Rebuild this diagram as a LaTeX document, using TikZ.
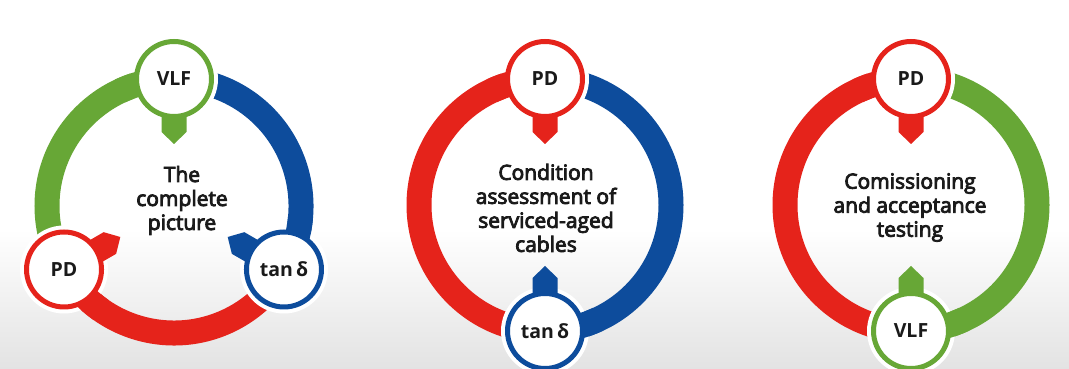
\documentclass[tikz,border=0pt]{standalone}
\usepackage{fontspec}
\setmainfont{Open Sans}
\newfontfamily\semib{Open Sans}[FakeBold=4]
\usetikzlibrary{calc}
\definecolor{cred}{HTML}{E5231B}
\definecolor{cgreen}{HTML}{67A736}
\definecolor{cblue}{HTML}{0D4C9C}
\definecolor{ctext}{HTML}{1A1A1A}
\tikzset{
  ringarc/.style={line width=25pt},
  hub/.style={circle, fill=white, draw=#1, line width=5pt, minimum size=75pt,
    inner sep=0pt, text=ctext, font=\bfseries\fontsize{19.5}{21}\selectfont},
  centertext/.style={align=center, text=ctext, inner sep=0pt,
    font=\semib\fontsize{21}{24}\selectfont},
  halo/.style={fill=white}
}
\newcommand\hubtab[3]{% coordinate, direction, colour
  \begin{scope}[shift={(#1)}, rotate=#2]
    \fill[#3] (0,-12.5) -- (53,-12.5) -- (65,0) -- (53,12.5) -- (0,12.5) -- cycle;
  \end{scope}}
\begin{document}
\begin{tikzpicture}[x=1pt,y=1pt]
\useasboundingbox (0,0) rectangle (1069,369);
\fill[white] (0,0) rectangle (1069,369);
\shade[top color=white, bottom color=black!11] (0,0) rectangle (1069,140);

% ---------- diagram 1 ----------
\coordinate (c1) at (174,163);
\coordinate (a1) at ($(c1)+(90:127)$);
\coordinate (b1) at ($(c1)+(210:127)$);
\coordinate (t1) at ($(c1)+(330:127)$);
\draw[ringarc, cgreen] (a1) arc[start angle=90, end angle=210, radius=127];
\draw[ringarc, cred] (b1) arc[start angle=210, end angle=330, radius=127];
\draw[ringarc, cblue] (t1) arc[start angle=330, end angle=450, radius=127];
\foreach \p in {a1,b1,t1} {\fill[halo] (\p) circle[radius=44];}
\draw[ringarc, cgreen] (a1) arc[start angle=90, end angle=115, radius=127];
\draw[ringarc, cred] (b1) arc[start angle=210, end angle=235, radius=127];
\draw[ringarc, cblue] (t1) arc[start angle=330, end angle=355, radius=127];
\hubtab{a1}{270}{cgreen}
\hubtab{b1}{30}{cred}
\hubtab{t1}{150}{cblue}
\node[hub=cgreen] (vlf1) at (a1) {VLF};
\node[hub=cred] (pd1) at (b1) {PD};
\node[hub=cblue] (tan1) at (t1) {tan\,δ};
\node[centertext] (txt1) at (182,168.5) {The\\complete\\picture};

% ---------- diagram 2 ----------
\coordinate (c2) at (545,164);
\coordinate (a2) at ($(c2)+(90:126)$);
\coordinate (b2) at ($(c2)+(270:126)$);
\draw[ringarc, cred] (a2) arc[start angle=90, end angle=270, radius=126];
\draw[ringarc, cblue] (b2) arc[start angle=270, end angle=450, radius=126];
\foreach \p in {a2,b2} {\fill[halo] (\p) circle[radius=44];}
\draw[ringarc, cred] (a2) arc[start angle=90, end angle=115, radius=126];
\draw[ringarc, cblue] (b2) arc[start angle=270, end angle=295, radius=126];
\hubtab{a2}{270}{cred}
\hubtab{b2}{90}{cblue}
\node[hub=cred] (pd2) at (a2) {PD};
\node[hub=cblue] (tan2) at (b2) {tan\,δ};
\node[centertext] (txt2) at (546,161) {Condition\\assessment of\\serviced-aged\\cables};

% ---------- diagram 3 ----------
\coordinate (c3) at (911,164);
\coordinate (a3) at ($(c3)+(90:126)$);
\coordinate (b3) at ($(c3)+(270:126)$);
\draw[ringarc, cred] (a3) arc[start angle=90, end angle=270, radius=126];
\draw[ringarc, cgreen] (b3) arc[start angle=270, end angle=450, radius=126];
\foreach \p in {a3,b3} {\fill[halo] (\p) circle[radius=44];}
\draw[ringarc, cred] (a3) arc[start angle=90, end angle=115, radius=126];
\draw[ringarc, cgreen] (b3) arc[start angle=270, end angle=295, radius=126];
\hubtab{a3}{270}{cred}
\hubtab{b3}{90}{cgreen}
\node[hub=cred] (pd3) at (a3) {PD};
\node[hub=cgreen] (vlf3) at (b3) {VLF};
\node[centertext] (txt3) at (910,161.5) {Comissioning\\and acceptance\\testing};
\end{tikzpicture}
\end{document}
